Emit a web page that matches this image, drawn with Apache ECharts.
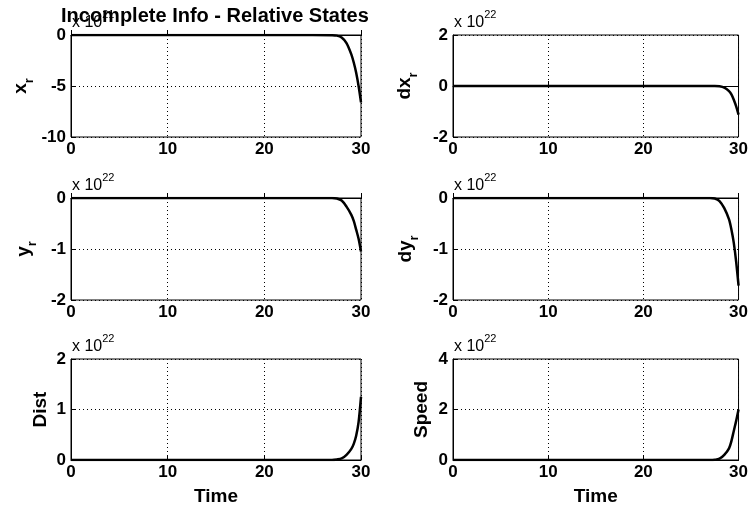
<!DOCTYPE html>
<html><head><meta charset="utf-8">
<script src="https://cdn.jsdelivr.net/npm/echarts@6/dist/echarts.min.js"></script>
<style>html,body{margin:0;padding:0;background:#fff}#c{width:751px;height:508px}</style>
</head><body><div id="c"></div>
<script>
// Time samples (shared by all panels)
const time = [0, 5, 10, 15, 20, 25, 27, 27.5, 28, 28.5, 29, 29.25, 29.5, 29.75, 30];
// Values in displayed units (x_r in 1e21, others in 1e22)
const xr    = [0, 0, 0, 0, 0, 0, -0.02, -0.06, -0.25, -0.8, -1.9, -2.7, -3.7, -5.0, -6.6];
const dxr   = [0, 0, 0, 0, 0, 0, 0, 0, -0.01, -0.06, -0.2, -0.33, -0.54, -0.8, -1.12];
const yr    = [0, 0, 0, 0, 0, 0, 0, -0.01, -0.05, -0.17, -0.33, -0.45, -0.62, -0.8, -1.05];
const dyr   = [0, 0, 0, 0, 0, 0, 0, -0.01, -0.06, -0.2, -0.42, -0.62, -0.88, -1.25, -1.72];
const dist  = [0, 0, 0, 0, 0, 0, 0, 0.01, 0.03, 0.1, 0.22, 0.32, 0.48, 0.75, 1.25];
const speed = [0, 0, 0, 0, 0, 0, 0, 0.01, 0.05, 0.2, 0.46, 0.75, 1.15, 1.55, 2.0];
const xTicks = {min: 0, max: 30, interval: 10};
const panels = [
  {vals: xr,    min: -10, max: 0, interval: 5, name: '{a|x}{s|r}', exp: '21', xname: ''},
  {vals: dxr,   min: -2,  max: 2, interval: 2, name: '{a|dx}{s|r}', exp: '22', xname: ''},
  {vals: yr,    min: -2,  max: 0, interval: 1, name: '{a|y}{s|r}', exp: '22', xname: ''},
  {vals: dyr,   min: -2,  max: 0, interval: 1, name: '{a|dy}{s|r}', exp: '22', xname: ''},
  {vals: dist,  min: 0,   max: 2, interval: 1, name: '{a|Dist}', exp: '22', xname: 'Time'},
  {vals: speed, min: 0,   max: 4, interval: 2, name: '{a|Speed}', exp: '22', xname: 'Time'}
];
const lefts = [71, 453];
const tops = [35, 198, 359];
const heights = [102, 102, 101];
const nameGaps = [35, 33, 32, 32, 15, 16];
const FONT = 'Liberation Sans, Arial, sans-serif';

const grid = [], xAxis = [], yAxis = [], series = [], graphic = [];
panels.forEach((p, i) => {
  const col = i % 2, row = Math.floor(i / 2);
  grid.push({left: lefts[col], top: tops[row], width: 290, height: heights[row],
    show: true, borderColor: '#000', borderWidth: 1, backgroundColor: '#fff'});
  xAxis.push({type: 'value', gridIndex: i, min: xTicks.min, max: xTicks.max, interval: xTicks.interval,
    name: p.xname, nameLocation: 'middle', nameGap: 27,
    nameTextStyle: {fontFamily: FONT, fontWeight: 'bold', fontSize: 19, color: '#000'},
    axisLine: {lineStyle: {color: '#000', width: 1}},
    axisTick: {inside: true, length: 5, lineStyle: {color: '#000'}},
    axisLabel: {fontFamily: FONT, fontWeight: 'bold', fontSize: 17, color: '#000', margin: 4},
    splitLine: {show: true, lineStyle: {color: '#000', type: [1, 3], width: 1}}});
  yAxis.push({type: 'value', gridIndex: i, min: p.min, max: p.max, interval: p.interval,
    name: p.name, nameLocation: 'middle', nameGap: nameGaps[i], nameRotate: 90,
    nameTextStyle: {fontFamily: FONT, fontWeight: 'bold', fontSize: 19, color: '#000',
      rich: {a: {fontFamily: FONT, fontWeight: 'bold', fontSize: 19, color: '#000', lineHeight: 30, verticalAlign: 'middle'},
             s: {fontFamily: FONT, fontWeight: 'bold', fontSize: 13, color: '#000', verticalAlign: 'bottom', lineHeight: 13}}},
    axisLine: {show: true, lineStyle: {color: '#000', width: 1}},
    axisTick: {show: true, inside: true, length: 5, lineStyle: {color: '#000'}},
    axisLabel: {fontFamily: FONT, fontWeight: 'bold', fontSize: 17, color: '#000', margin: 5},
    splitLine: {show: true, lineStyle: {color: '#000', type: [1, 3], width: 1}}});
  series.push({type: 'line', xAxisIndex: i, yAxisIndex: i, showSymbol: false, smooth: 0.3,
    data: time.map((t, k) => [t, p.vals[k]]),
    lineStyle: {color: '#000', width: 2.5}, z: 5});
  graphic.push({type: 'text', left: lefts[col] + 1, top: tops[row] - 26, z: 10,
    style: {text: '{b|x 10}{p|' + p.exp + '}', fill: '#000',
      rich: {b: {fontFamily: FONT, fontSize: 16, fill: '#000', verticalAlign: 'bottom', lineHeight: 22},
             p: {fontFamily: FONT, fontSize: 11, fill: '#000', verticalAlign: 'top', lineHeight: 22}}}});
});
graphic.push({type: 'text', left: 61, top: 6, z: 20,
  style: {text: 'Incomplete Info - Relative States', fill: '#000',
    font: 'bold 20px ' + FONT}});

const chart = echarts.init(document.getElementById('c'), null, {renderer: 'canvas'});
chart.setOption({animation: false, backgroundColor: '#fff', grid, xAxis, yAxis, series, graphic});
</script></body></html>
